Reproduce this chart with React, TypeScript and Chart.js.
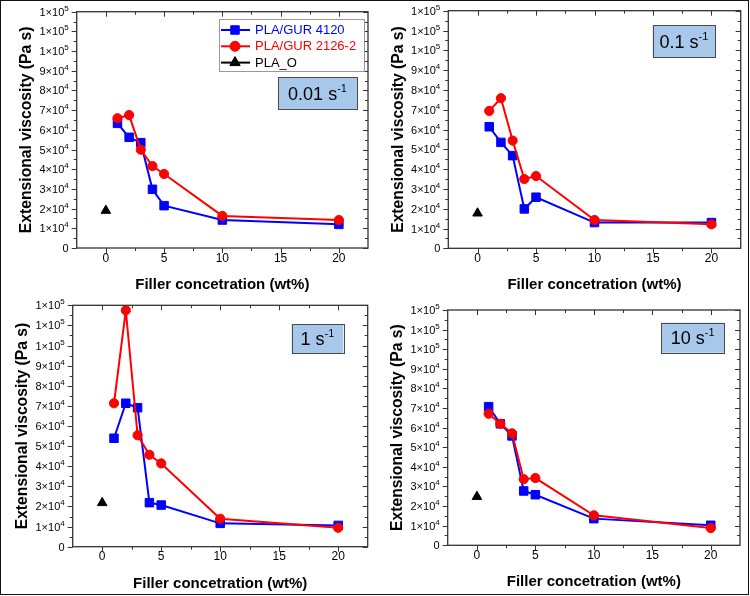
import { useEffect, useRef } from "react";
import { Chart, registerables } from "chart.js";

Chart.register(...registerables);

const FONT = '"Liberation Sans", Arial, Helvetica, sans-serif';
const AXIS_COLOR = "#333333";
const BLUE = "#0000ff";
const RED = "#ff0000";
const BLACK = "#000000";
const RATE_FILL = "#a7c8ea";

// Filler content (wt%) of the composites and of the neat polymer
const fillerWt = [1, 2, 3, 4, 5, 10, 20];
const neatWt = [0];

// Strain rates shown in the four panels (s^-1)
const strainRates = ["0.01", "0.1", "1", "10"];
const seriesNames = ["PLA/GUR 4120", "PLA/GUR 2126-2", "PLA_O"];

// Extensional viscosity (Pa s) of PLA/GUR 4120
const gur4120At001 = [63300, 56200, 53500, 29800, 21500, 14200, 12000];
const gur4120At01 = [61400, 53500, 46800, 19900, 25800, 13000, 13000];
const gur4120At1 = [53900, 71300, 69100, 21900, 20700, 11600, 10600];
const gur4120At10 = [70700, 62000, 55800, 27700, 25800, 13600, 10200];

// Extensional viscosity (Pa s) of PLA/GUR 2126-2
const gur2126At001 = [65900, 67500, 49900, 41600, 37600, 16300, 14200];
const gur2126At01 = [69400, 75800, 54400, 35000, 36500, 14300, 12100];
const gur2126At1 = [71300, 117500, 55400, 45700, 41400, 13900, 9400];
const gur2126At10 = [67100, 62000, 57100, 33700, 34300, 15300, 8800];

// Neat PLA_O, one value per strain rate
const plaO = [19000, 17700, 21800, 24800];

// Axis ranges and tick values
const xMin = -2.5;
const xMax = 22.5;
const xTicks = [0, 5, 10, 15, 20];
const xStep = 5;
const yMin = 0;
const yMax = 120000;
const yStep = 10000;

const gur4120Sets = [gur4120At001, gur4120At01, gur4120At1, gur4120At10];
const gur2126Sets = [gur2126At001, gur2126At01, gur2126At1, gur2126At10];

const PANEL_W = 375;
const PANEL_H = 298;

type Rect = { x: number; y: number; w: number; h: number };
type PanelLayout = {
  left: number;
  top: number;
  area: { l: number; t: number; r: number; b: number };
  rateBox: Rect;
  legend?: Rect;
};

const panelLayouts: PanelLayout[] = [
  { left: 0, top: 0, area: { l: 76.7, t: 11.7, r: 368, b: 248 }, rateBox: { x: 278, y: 77, w: 79, h: 32 }, legend: { x: 219, y: 19, w: 145, h: 52 } },
  { left: 375, top: 0, area: { l: 73.3, t: 10.7, r: 365.7, b: 248.3 }, rateBox: { x: 277.7, y: 25, w: 62.3, h: 32 } },
  { left: 0, top: 298, area: { l: 72.7, t: 7.3, r: 367.7, b: 248.7 }, rateBox: { x: 291.7, y: 26.3, w: 51.6, h: 29 } },
  { left: 375, top: 298, area: { l: 72.7, t: 12, r: 365, b: 247.3 }, rateBox: { x: 286, y: 24.7, w: 63.3, h: 30 } },
];

function drawSciLabel(ctx: CanvasRenderingContext2D, value: number, xRight: number, y: number) {
  ctx.fillStyle = "#000";
  ctx.textBaseline = "alphabetic";
  if (value === 0) {
    ctx.font = `11px ${FONT}`;
    ctx.textAlign = "right";
    ctx.fillText("0", xRight, y + 4);
    return;
  }
  const exp = Math.floor(Math.log10(value) + 1e-9);
  const mant = Math.round(value / Math.pow(10, exp));
  const base = `${mant}×10`;
  const sup = String(exp);
  ctx.font = `8px ${FONT}`;
  const wSup = ctx.measureText(sup).width;
  ctx.font = `11px ${FONT}`;
  const wBase = ctx.measureText(base).width;
  const x0 = xRight - wSup - wBase;
  ctx.textAlign = "left";
  ctx.fillText(base, x0, y + 4);
  ctx.font = `8px ${FONT}`;
  ctx.fillText(sup, x0 + wBase, y - 1);
}

function drawMarker(ctx: CanvasRenderingContext2D, style: string, x: number, y: number, r: number) {
  ctx.beginPath();
  if (style === "rect") {
    const s = Math.SQRT1_2 * r;
    ctx.rect(x - s, y - s, 2 * s, 2 * s);
  } else if (style === "circle") {
    ctx.arc(x, y, r, 0, Math.PI * 2);
  } else {
    ctx.moveTo(x, y - r);
    ctx.lineTo(x + Math.sin((2 * Math.PI) / 3) * r, y + r / 2);
    ctx.lineTo(x - Math.sin((2 * Math.PI) / 3) * r, y + r / 2);
    ctx.closePath();
  }
  ctx.fill();
  ctx.stroke();
}

const decorPlugin = {
  id: "decor",
  afterDraw(chart: any, _args: any, opts: any) {
    const { ctx, chartArea: a, scales } = chart;
    const xs = scales.x;
    const ys = scales.y;
    ctx.save();

    // frame
    ctx.strokeStyle = AXIS_COLOR;
    ctx.lineWidth = 1.3;
    ctx.strokeRect(a.left, a.top, a.right - a.left, a.bottom - a.top);

    // tick marks: outward on left/bottom, mirrored inward on right/top
    ctx.beginPath();
    ctx.lineWidth = 1;
    for (let v = yMin; v <= yMax; v += yStep / 2) {
      const y = Math.round(ys.getPixelForValue(v)) + 0.5;
      const major = v % yStep === 0;
      const len = major ? 5 : 3;
      ctx.moveTo(a.left - len, y);
      ctx.lineTo(a.left, y);
      ctx.moveTo(a.right, y);
      ctx.lineTo(a.right - len, y);
    }
    for (let v = xTicks[0]; v <= xTicks[xTicks.length - 1]; v += xStep / 2) {
      const x = Math.round(xs.getPixelForValue(v)) + 0.5;
      const major = v % xStep === 0;
      const len = major ? 5 : 3;
      ctx.moveTo(x, a.bottom);
      ctx.lineTo(x, a.bottom + len);
      ctx.moveTo(x, a.top);
      ctx.lineTo(x, a.top + len);
    }
    ctx.stroke();

    // y tick labels in scientific notation
    for (const t of ys.ticks) {
      drawSciLabel(ctx, t.value, a.left - 8, ys.getPixelForValue(t.value));
    }

    // axis titles
    ctx.fillStyle = "#000";
    ctx.textAlign = "center";
    ctx.textBaseline = "middle";
    ctx.font = `bold 15px ${FONT}`;
    ctx.fillText("Filler concetration (wt%)", (a.left + a.right) / 2, a.bottom + 37);
    ctx.save();
    ctx.translate(a.left - 50, (a.top + a.bottom) / 2);
    ctx.rotate(-Math.PI / 2);
    ctx.font = `bold 15.7px ${FONT}`;
    ctx.fillText("Extensional viscosity (Pa s)", 0, 0);
    ctx.restore();

    // strain-rate box
    const rb: Rect = opts.rateBox;
    ctx.fillStyle = RATE_FILL;
    ctx.fillRect(rb.x, rb.y, rb.w, rb.h);
    ctx.strokeStyle = "#4a4a4a";
    ctx.lineWidth = 1;
    ctx.strokeRect(Math.round(rb.x) + 0.5, Math.round(rb.y) + 0.5, Math.round(rb.w), Math.round(rb.h));
    const main = `${opts.rate} s`;
    const sup = "-1";
    ctx.font = `18px ${FONT}`;
    const wMain = ctx.measureText(main).width;
    ctx.font = `11px ${FONT}`;
    const wSup = ctx.measureText(sup).width;
    const sx = rb.x + (rb.w - wMain - wSup) / 2;
    const cy = rb.y + rb.h / 2;
    ctx.fillStyle = "#000";
    ctx.textAlign = "left";
    ctx.textBaseline = "alphabetic";
    ctx.font = `18px ${FONT}`;
    ctx.fillText(main, sx, cy + 6.5);
    ctx.font = `11px ${FONT}`;
    ctx.fillText(sup, sx + wMain, cy - 1.5);

    // legend
    if (opts.legend) {
      const lg: Rect = opts.legend;
      ctx.fillStyle = "#fff";
      ctx.fillRect(lg.x, lg.y, lg.w, lg.h);
      ctx.strokeStyle = "#999";
      ctx.lineWidth = 1;
      ctx.strokeRect(Math.round(lg.x) + 0.5, Math.round(lg.y) + 0.5, Math.round(lg.w), Math.round(lg.h));
      const colors = [BLUE, RED, BLACK];
      const styles = ["rect", "circle", "triangle"];
      const radii = [6, 5, 6];
      seriesNames.forEach((name, i) => {
        const y = lg.y + 11 + i * 16.3;
        ctx.strokeStyle = colors[i];
        ctx.lineWidth = 2;
        ctx.beginPath();
        ctx.moveTo(lg.x + 2, y);
        ctx.lineTo(lg.x + 31, y);
        ctx.stroke();
        ctx.fillStyle = colors[i];
        ctx.lineWidth = 1;
        drawMarker(ctx, styles[i], lg.x + 16, y, radii[i]);
        ctx.font = `13px ${FONT}`;
        ctx.textAlign = "left";
        ctx.textBaseline = "middle";
        ctx.fillStyle = colors[i];
        ctx.fillText(name, lg.x + 36, y + 0.5);
      });
    }
    ctx.restore();
  },
};

function ViscosityPanel({ index }: { index: number }) {
  const ref = useRef<HTMLCanvasElement>(null);
  const layout = panelLayouts[index];

  useEffect(() => {
    if (!ref.current) return;
    const area = layout.area;
    const chart = new Chart(ref.current, {
      type: "line",
      data: {
        datasets: [
          {
            label: seriesNames[0],
            data: fillerWt.map((x, i) => ({ x, y: gur4120Sets[index][i] })),
            borderColor: BLUE,
            backgroundColor: BLUE,
            borderWidth: 2,
            pointStyle: "rect",
            pointRadius: 6,
            pointBorderWidth: 1,
            tension: 0,
            order: 3,
          },
          {
            label: seriesNames[1],
            data: fillerWt.map((x, i) => ({ x, y: gur2126Sets[index][i] })),
            borderColor: RED,
            backgroundColor: RED,
            borderWidth: 2,
            pointStyle: "circle",
            pointRadius: 4.6,
            pointBorderWidth: 1,
            tension: 0,
            order: 2,
          },
          {
            label: seriesNames[2],
            data: neatWt.map((x) => ({ x, y: plaO[index] })),
            borderColor: BLACK,
            backgroundColor: BLACK,
            showLine: false,
            pointStyle: "triangle",
            pointRadius: 5.5,
            pointBorderWidth: 1,
            order: 1,
          },
        ],
      },
      options: {
        responsive: false,
        animation: false,
        devicePixelRatio: 1,
        layout: { padding: { left: 0, top: area.t, right: PANEL_W - area.r, bottom: 0 } },
        plugins: {
          legend: { display: false },
          tooltip: { enabled: false },
          decor: { rate: strainRates[index], rateBox: layout.rateBox, legend: layout.legend },
        } as any,
        scales: {
          x: {
            type: "linear",
            min: xMin,
            max: xMax,
            afterFit: (s: any) => {
              s.height = PANEL_H - area.b;
            },
            afterBuildTicks: (s: any) => {
              s.ticks = xTicks.map((value) => ({ value }));
            },
            grid: { display: false, drawTicks: false },
            border: { display: false },
            ticks: {
              padding: 3,
              maxRotation: 0,
              autoSkip: false,
              color: "#000",
              font: { family: FONT, size: 12 },
              callback: (v: any) => String(v),
            },
          },
          y: {
            type: "linear",
            min: yMin,
            max: yMax,
            afterFit: (s: any) => {
              s.width = area.l;
            },
            grid: { display: false, drawTicks: false },
            border: { display: false },
            ticks: { stepSize: yStep, display: false },
          },
        },
      },
      plugins: [decorPlugin],
    });
    return () => chart.destroy();
  }, [index]);

  return (
    <canvas
      ref={ref}
      width={PANEL_W}
      height={PANEL_H}
      style={{ position: "absolute", left: layout.left, top: layout.top, width: PANEL_W, height: PANEL_H }}
    />
  );
}

export default function App() {
  return (
    <div style={{ position: "absolute", left: 0, top: 0, width: 750, height: 596, background: "#fff" }}>
      {strainRates.map((_r, i) => (
        <ViscosityPanel key={i} index={i} />
      ))}
      <div
        style={{
          position: "absolute",
          left: 0,
          top: 0,
          width: 749,
          height: 595,
          border: "1px solid #111",
          boxSizing: "border-box",
          pointerEvents: "none",
        }}
      />
    </div>
  );
}
